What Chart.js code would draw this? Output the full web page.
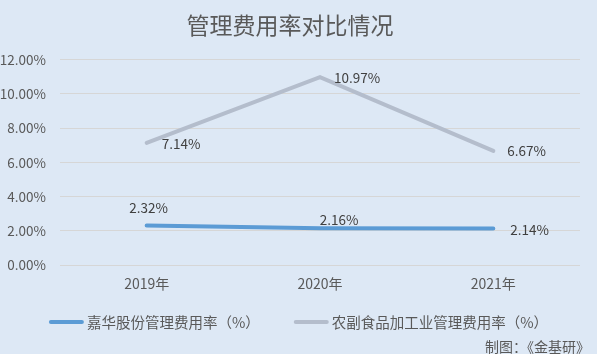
<!DOCTYPE html>
<html>
<head>
<meta charset="utf-8">
<script src="https://cdn.jsdelivr.net/npm/chart.js@4.4.1/dist/chart.umd.min.js"></script>
<style>
  html, body { margin: 0; padding: 0; background: #dde8f5; }
  #wrap { width: 597px; height: 354px; }
</style>
</head>
<body>
<div id="wrap"><canvas id="myChart" width="597" height="354"></canvas></div>
<script>
const years = ['2019年', '2020年', '2021年'];
const jiahuaRate = [2.32, 2.16, 2.14];
const industryRate = [7.14, 10.97, 6.67];
const yTicks = [0, 2, 4, 6, 8, 10, 12];

const textColor = '#595959';
const cjkFont = '"Noto Sans CJK SC", "Noto Sans", sans-serif';

// label offsets from each point, in px
const jiahuaLabelOffset = [[2, -18, 'center'], [19, -8, 'center'], [17, 1, 'left']];
const industryLabelOffset = [[15, 1, 'left'], [14, 1, 'left'], [14, 0, 'left']];

const pointLabels = {
    id: 'pointLabels',
    afterDatasetsDraw(chart) {
        const c = chart.ctx;
        c.save();
        c.font = '13.5px ' + cjkFont;
        c.fillStyle = '#404040';
        c.textBaseline = 'middle';
        chart.data.datasets.forEach((ds, i) => {
            const meta = chart.getDatasetMeta(i);
            meta.data.forEach((pt, j) => {
                const [dx, dy, align] = ds.labelOffset[j];
                c.textAlign = align;
                c.fillText(ds.data[j].toFixed(2) + '%', pt.x + dx, pt.y + dy);
            });
        });
        c.restore();
    }
};

// legend row + source note along the bottom
const bottomLegend = {
    id: 'bottomLegend',
    afterDraw(chart) {
        const c = chart.ctx;
        const lineW = 35, gapText = 3, gapItem = 34;
        c.save();
        c.font = '14.5px ' + cjkFont;
        c.textBaseline = 'middle';
        c.textAlign = 'left';
        const items = chart.data.datasets.map(ds => ({
            text: ds.label, color: ds.borderColor, w: c.measureText(ds.label).width
        }));
        let total = items.reduce((s, it) => s + lineW + gapText + it.w, 0) + gapItem * (items.length - 1);
        let x = (chart.width - total) / 2;
        const y = 322;
        items.forEach(it => {
            c.strokeStyle = it.color;
            c.lineWidth = 4;
            c.lineCap = 'round';
            c.beginPath();
            c.moveTo(x + 2, y);
            c.lineTo(x + lineW - 2, y);
            c.stroke();
            c.fillStyle = textColor;
            c.fillText(it.text, x + lineW + gapText, y);
            x += lineW + gapText + it.w + gapItem;
        });
        c.font = '14px ' + cjkFont;
        c.textAlign = 'right';
        c.fillText('制图：《金基研》', 590, 347);
        c.restore();
    }
};

const ctx = document.getElementById('myChart').getContext('2d');
const myChart = new Chart(ctx, {
    type: 'line',
    data: {
        labels: years,
        datasets: [
            {
                label: '嘉华股份管理费用率（%）',
                data: jiahuaRate,
                borderColor: '#5b9bd5',
                backgroundColor: '#5b9bd5',
                borderWidth: 4,
                pointRadius: 0,
                tension: 0,
                borderCapStyle: 'round',
                labelOffset: jiahuaLabelOffset
            },
            {
                label: '农副食品加工业管理费用率（%）',
                data: industryRate,
                borderColor: '#b4bdcc',
                backgroundColor: '#b4bdcc',
                borderWidth: 4,
                pointRadius: 0,
                tension: 0,
                borderCapStyle: 'round',
                borderJoinStyle: 'miter',
                labelOffset: industryLabelOffset
            }
        ]
    },
    options: {
        responsive: false,
        animation: false,
        layout: {
            padding: { left: 0, right: 17, top: 0, bottom: 52 }
        },
        plugins: {
            title: {
                display: true,
                text: '管理费用率对比情况',
                color: textColor,
                font: { family: cjkFont, size: 23, weight: 'normal' },
                padding: { top: 11, bottom: 21 }
            },
            legend: { display: false },
            tooltip: { enabled: false }
        },
        scales: {
            x: {
                offset: true,
                grid: { display: false, drawTicks: false },
                border: { display: false },
                ticks: {
                    color: textColor,
                    font: { family: cjkFont, size: 14 },
                    padding: 10
                }
            },
            y: {
                min: 0,
                max: 12,
                afterBuildTicks(axis) {
                    axis.ticks = yTicks.map(v => ({ value: v }));
                },
                afterFit(axis) {
                    axis.width = 60;
                },
                grid: { color: '#d6d6d6', lineWidth: 1, drawTicks: false },
                border: { display: false },
                ticks: {
                    color: textColor,
                    font: { family: cjkFont, size: 13.5 },
                    padding: 14,
                    callback: v => v.toFixed(2) + '%'
                }
            }
        }
    },
    plugins: [pointLabels, bottomLegend]
});
</script>
</body>
</html>
